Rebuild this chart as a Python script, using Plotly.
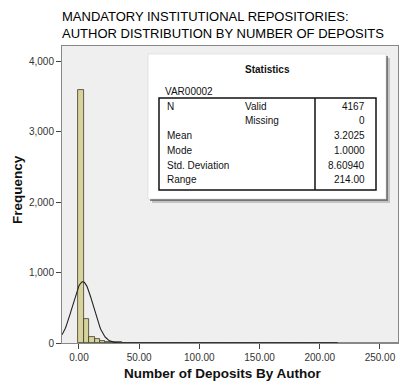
import numpy as np
import plotly.graph_objects as go

# ---- data ----
bin_start = -0.5
bin_width = 4.5
counts = [3590, 340, 80, 50, 30, 18, 12, 9, 7, 5,
          3, 2, 2, 2, 1, 1, 1, 1, 1, 1, 1, 0, 1, 1, 0, 1, 0, 1, 0, 1,
          0, 0, 1, 0, 0, 1, 0, 0, 1, 0, 0, 0, 1, 0, 0, 0, 0, 1]
stat_n_valid = 4167
stat_missing = 0
stat_mean = 3.2025
stat_mode = 1.0000
stat_sd = 8.60940
stat_range = 214.00
y_ticks = [0, 1000, 2000, 3000, 4000]
x_ticks = [0, 50, 100, 150, 200, 250]

centers = [bin_start + bin_width * (i + 0.5) for i in range(len(counts))]
xs = np.linspace(-14.1, 265, 600)
ys = stat_n_valid * bin_width / (stat_sd * np.sqrt(2 * np.pi)) * np.exp(-0.5 * ((xs - stat_mean) / stat_sd) ** 2)

W, H = 412, 385
L, R, T, B = 62, 14, 46, 42
PW, PH = W - L - R, H - T - B


def px(x):
    return (x - L) / PW


def py(y):
    return (H - B - y) / PH


fig = go.Figure()
fig.add_trace(go.Bar(x=centers, y=counts, width=bin_width,
                     marker=dict(color="#d8d39c", line=dict(color="#3a3a2a", width=0.8)),
                     showlegend=False))
fig.add_trace(go.Scatter(x=xs, y=ys, mode="lines", line=dict(color="#222", width=1.1),
                         showlegend=False))

font_main = "Liberation Sans, Arial, sans-serif"
shapes = []
# shadow
shapes.append(dict(type="rect", xref="paper", yref="paper", x0=px(152), x1=px(390), y0=py(203), y1=py(58),
                   fillcolor="#9a9a9a", line=dict(width=0), opacity=0.5, layer="above"))
shapes.append(dict(type="rect", xref="paper", yref="paper", x0=px(150), x1=px(388), y0=py(201), y1=py(56),
                   fillcolor="#555", line=dict(width=0), opacity=0.7, layer="above"))
shapes.append(dict(type="rect", xref="paper", yref="paper", x0=px(148), x1=px(386), y0=py(199), y1=py(54),
                   fillcolor="white", line=dict(color="#ccc", width=0.5), layer="above"))
shapes.append(dict(type="rect", xref="paper", yref="paper", x0=px(159), x1=px(376), y0=py(190), y1=py(98),
                   fillcolor="rgba(0,0,0,0)", line=dict(color="#111", width=1.5), layer="above"))
shapes.append(dict(type="line", xref="paper", yref="paper", x0=px(315), x1=px(315), y0=py(190), y1=py(98),
                   line=dict(color="#111", width=1.5), layer="above"))

ann = []


def t(x, y, s, anchor="left", size=10, bold=False, angle=0):
    ann.append(dict(xref="paper", yref="paper", x=px(x), y=py(y), text=("<b>%s</b>" % s) if bold else s,
                    showarrow=False, xanchor=anchor, yanchor="middle", textangle=angle,
                    font=dict(family=font_main, size=size, color="#111")))


t(267, 70, "Statistics", "center", 10, True)
t(163, 91, "VAR00002")
rows = [("N", "Valid", str(stat_n_valid)),
        ("", "Missing", str(stat_missing)),
        ("Mean", "", "%.4f" % stat_mean),
        ("Mode", "", "%.4f" % stat_mode),
        ("Std. Deviation", "", "%.5f" % stat_sd),
        ("Range", "", "%.2f" % stat_range)]
row_y = [106, 121, 135, 150, 165, 180]
for (a, b, c), yy in zip(rows, row_y):
    if a:
        t(165, yy, a)
    if b:
        t(243, yy, b)
    t(367, yy, c, "right")

# axis titles
t(223, 373, "Number of Deposits By Author", "center", 13.5, True)
t(17, 190, "Frequency", "center", 13.5, True, -90)

fig.update_layout(
    width=W, height=H,
    margin=dict(l=L, r=R, t=T, b=B, autoexpand=False),
    paper_bgcolor="white", plot_bgcolor="#efefef",
    bargap=0,
    shapes=shapes, annotations=ann,
    title=dict(text="MANDATORY INSTITUTIONAL REPOSITORIES:<br>AUTHOR DISTRIBUTION BY NUMBER OF DEPOSITS",
               xref="paper", x=0, xanchor="left", yref="container", y=1 - 21 / H, yanchor="middle",
               automargin=False,
               font=dict(family=font_main, size=13, color="#000")),
    font=dict(family=font_main, size=10, color="#333"),
)
fig.update_xaxes(range=[-14.1, 265], tickvals=x_ticks, ticktext=["%.2f" % v for v in x_ticks],
                 showgrid=False, zeroline=False, showline=True, linecolor="#888", linewidth=1, mirror=True,
                 ticks="outside", ticklen=5, tickcolor="#444", automargin=False)
fig.update_yaxes(range=[0, 4213], tickvals=y_ticks, ticktext=["{:,}".format(v) for v in y_ticks],
                 showgrid=False, zeroline=False, showline=True, linecolor="#888", linewidth=1, mirror=True,
                 ticks="outside", ticklen=5, tickcolor="#444", automargin=False)

fig.write_html("out.html", config={"displayModeBar": False},
               post_script="document.body.style.margin='0';document.body.style.overflow='hidden';")
